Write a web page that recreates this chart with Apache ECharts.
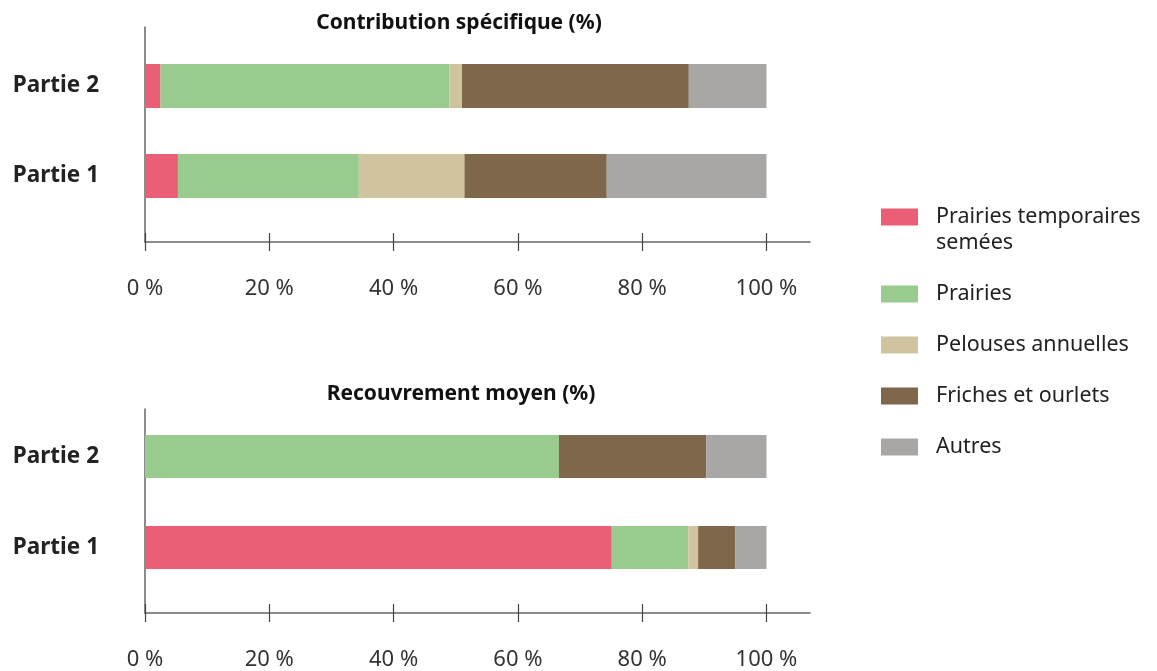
<!DOCTYPE html>
<html>
<head>
<meta charset="utf-8">
<script src="https://cdn.jsdelivr.net/npm/echarts@6/dist/echarts.min.js"></script>
<style>
  html, body { margin: 0; padding: 0; background: #fff; }
  #chart { width: 1157px; height: 671px; }
</style>
</head>
<body>
<div id="chart"></div>
<script>
// ---- data ----
const categories = ['Partie 1', 'Partie 2'];
const seriesNames = ['Prairies temporaires semées', 'Prairies', 'Pelouses annuelles', 'Friches et ourlets', 'Autres'];
const titles = ['Contribution spécifique (%)', 'Recouvrement moyen (%)'];
const xTicks = [0, 20, 40, 60, 80, 100];

// Contribution spécifique (%) : [Partie 1, Partie 2]
const contribPrairiesTemp = [5.3, 2.5];
const contribPrairies     = [29.1, 46.5];
const contribPelouses     = [17.0, 2.0];
const contribFriches      = [22.9, 36.5];
const contribAutres       = [25.7, 12.5];

// Recouvrement moyen (%) : [Partie 1, Partie 2]
const recouvPrairiesTemp = [75.1, 0];
const recouvPrairies     = [12.3, 66.6];
const recouvPelouses     = [1.6, 0];
const recouvFriches      = [6.0, 23.7];
const recouvAutres       = [5.0, 9.7];

// ---- styles ----
const colors = ['#EA5E76', '#99CB8E', '#D0C3A0', '#7E674A', '#A8A7A6'];
const FONT = 'Noto Sans';
const AXIS_MAX = 107;
const axisColor = '#666';

const contribData = [contribPrairiesTemp, contribPrairies, contribPelouses, contribFriches, contribAutres];
const recouvData = [recouvPrairiesTemp, recouvPrairies, recouvPelouses, recouvFriches, recouvAutres];

const chart = echarts.init(document.getElementById('chart'), null, { renderer: 'canvas' });

const L = 145, W = 665;
const grids = [
  { left: L, width: W, top: 27, height: 215 },   // top axes display
  { left: L, width: W, top: 41, height: 180 },   // top bars
  { left: L, width: W, top: 409, height: 204 },  // bottom axes display
  { left: L, width: W, top: 411, height: 182 }   // bottom bars
];

function displayX(gridIndex) {
  return {
    type: 'value', gridIndex, min: 0, max: AXIS_MAX,
    axisLine: { show: true, lineStyle: { color: axisColor, width: 1.5 } },
    axisTick: { show: true, length: 9, inside: false, customValues: xTicks, lineStyle: { color: '#444', width: 1.2 } },
    axisLabel: { show: true, customValues: xTicks, formatter: '{value} %', margin: 36,
      fontFamily: FONT, fontSize: 22, color: '#333' },
    splitLine: { show: false }
  };
}
function barX(gridIndex, offset) {
  return {
    type: 'value', gridIndex, min: 0, max: AXIS_MAX, offset,
    axisLine: { show: false },
    axisTick: { show: true, length: 9, inside: true, customValues: xTicks, lineStyle: { color: '#444', width: 1.2 } },
    axisLabel: { show: false },
    splitLine: { show: false }
  };
}
function displayY(gridIndex) {
  return {
    type: 'value', gridIndex, min: 0, max: 1,
    axisLine: { show: true, lineStyle: { color: axisColor, width: 1.5 } },
    axisTick: { show: false }, axisLabel: { show: false }, splitLine: { show: false }
  };
}
function barY(gridIndex) {
  return {
    type: 'category', gridIndex, data: categories,
    axisLine: { show: false }, axisTick: { show: false },
    axisLabel: { margin: 46, fontFamily: FONT, fontSize: 22.5, fontWeight: 'bold', color: '#222' }
  };
}

const series = [];
seriesNames.forEach((name, i) => {
  series.push({
    name, type: 'bar', stack: 'contrib', xAxisIndex: 1, yAxisIndex: 1,
    data: contribData[i], barWidth: 44, itemStyle: { color: colors[i] }
  });
});
seriesNames.forEach((name, i) => {
  series.push({
    name, type: 'bar', stack: 'recouv', xAxisIndex: 3, yAxisIndex: 3,
    data: recouvData[i], barWidth: 43, itemStyle: { color: colors[i] }
  });
});

chart.setOption({
  animation: false,
  backgroundColor: '#fff',
  textStyle: { fontFamily: FONT },
  grid: grids,
  xAxis: [displayX(0), barX(1, 21), displayX(2), barX(3, 20)],
  yAxis: [displayY(0), barY(1), displayY(2), barY(3)],
  legend: {
    orient: 'vertical', left: 881, top: 178, padding: 0,
    itemWidth: 37, itemHeight: 17, itemGap: 25,
    icon: 'rect',
    data: seriesNames,
    selectedMode: false,
    textStyle: { fontFamily: FONT, fontSize: 21.5, color: '#222', lineHeight: 26, padding: [0, 0, 0, 13] },
    formatter: function (name) {
      return name === 'Prairies temporaires semées' ? '\nPrairies temporaires\nsemées' : name;
    }
  },
  graphic: [
    { type: 'text', x: 459, y: 23, style: { text: titles[0], font: 'bold 21px "Noto Sans"', fill: '#111', align: 'center', verticalAlign: 'middle' } },
    { type: 'text', x: 461, y: 394, style: { text: titles[1], font: 'bold 21px "Noto Sans"', fill: '#111', align: 'center', verticalAlign: 'middle' } }
  ],
  series
});
</script>
</body>
</html>
